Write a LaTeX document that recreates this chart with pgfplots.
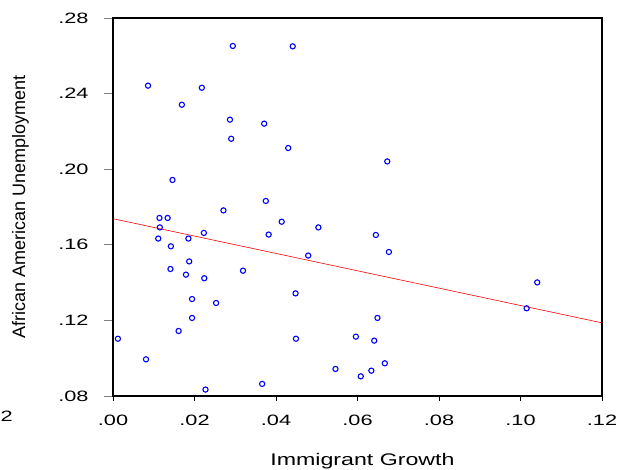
\documentclass[border=0pt]{standalone}
\usepackage{fontspec}
\setmainfont{Liberation Sans}
\newfontfamily\tickfont{Liberation Sans}[FakeStretch=1.45]
\newfontfamily\labfont{Liberation Sans}[FakeStretch=1.38]
\usepackage{pgfplots}
\pgfplotsset{compat=1.18}
\begin{document}
\begin{tikzpicture}
\begin{axis}[
  scale only axis, width=489pt, height=378pt,
  xmin=0, xmax=0.12, ymin=0.08, ymax=0.28,
  xtick={0,0.02,0.04,0.06,0.08,0.10,0.12},
  xticklabels={.00,.02,.04,.06,.08,.10,.12},
  ytick={0.08,0.12,0.16,0.20,0.24,0.28},
  yticklabels={.08,.12,.16,.20,.24,.28},
  tick align=outside,
  xtick pos=bottom, ytick pos=left,
  xtick style={black, line width=0.8pt, /pgfplots/major tick length=5pt},
  ytick style={gray, line width=0.8pt, /pgfplots/major tick length=9pt},
  xticklabel style={font=\fontsize{15}{18}\tickfont, anchor=base, inner sep=0pt, yshift=-25.7pt},
  yticklabel style={font=\fontsize{15}{18}\tickfont, anchor=east, inner sep=0pt, xshift=-20pt},
  axis line style={black, line width=1.2pt},
  xlabel={Immigrant Growth},
  xlabel style={font=\fontsize{16.8}{20}\labfont, at={(axis description cs:0.5102,0)}, anchor=base, yshift=-70pt},
  ylabel={African American Unemployment},
  ylabel style={font=\fontsize{18}{21}\selectfont, at={(axis description cs:-0.1892,0.501)}, anchor=center},
]
\addplot[only marks, mark=o, mark size=2.6pt, blue, mark options={line width=1.1pt}] coordinates {
(0.0294,0.2652) (0.0441,0.2650) (0.0086,0.2442) (0.0218,0.2431) (0.0169,0.2341)
(0.0287,0.2262) (0.0371,0.2241) (0.0290,0.2161) (0.0430,0.2112) (0.0146,0.1943)
(0.0375,0.1832) (0.0271,0.1782) (0.0673,0.2041) (0.0114,0.1742) (0.0134,0.1742)
(0.0414,0.1722) (0.0115,0.1692) (0.0504,0.1692) (0.0223,0.1663) (0.0382,0.1654)
(0.0111,0.1633) (0.0185,0.1633) (0.0142,0.1592) (0.0479,0.1543) (0.0187,0.1512)
(0.0141,0.1472) (0.0319,0.1463) (0.0179,0.1442) (0.0224,0.1423) (0.0448,0.1343)
(0.0194,0.1313) (0.0253,0.1292) (0.0194,0.1213) (0.0161,0.1144) (0.0012,0.1103)
(0.0449,0.1103) (0.0596,0.1114) (0.0081,0.0994) (0.0546,0.0943) (0.0366,0.0864)
(0.0227,0.0834) (0.0608,0.0904) (0.0645,0.1652) (0.0677,0.1562) (0.1041,0.1401)
(0.1015,0.1264) (0.0649,0.1213) (0.0641,0.1093) (0.0667,0.0973) (0.0634,0.0934)
};
\addplot[red, line width=0.6pt, no marks] coordinates {(0,0.1738) (0.12,0.1187)};
\end{axis}
\node[font=\fontsize{15}{18}\tickfont, anchor=base west, inner sep=0pt] at (-112.5pt,-25.7pt) {2};
\pgfresetboundingbox
\path[use as bounding box] (-113pt,-74pt) rectangle (511pt,396pt);
\end{tikzpicture}
\end{document}
